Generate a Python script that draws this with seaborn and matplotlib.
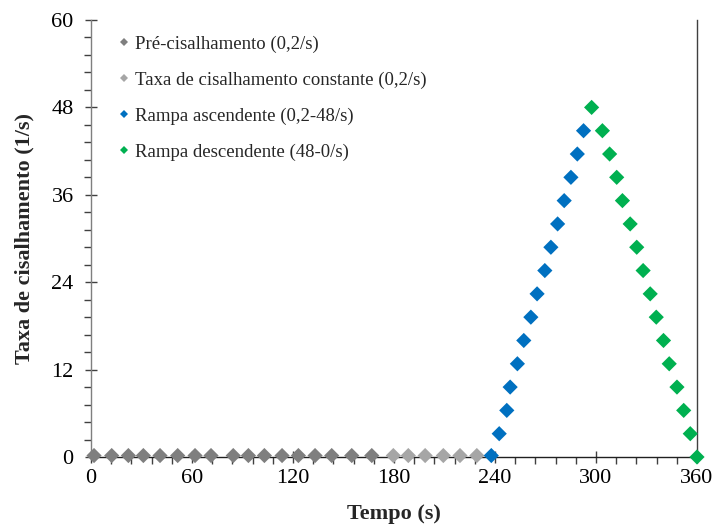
import numpy as np
import pandas as pd
import matplotlib
matplotlib.use("Agg")
import matplotlib.pyplot as plt
from matplotlib.ticker import MultipleLocator
import seaborn as sns

# ---- data ----
pre_t = [1.8, 12.3, 22.2, 31.1, 41.0, 51.5, 61.8, 71.3, 84.5, 93.5, 103.0,
         113.5, 123.2, 133.1, 143.0, 154.9, 166.8]
pre_y = [0.2] * len(pre_t)

const_t = [179.6, 188.5, 198.5, 209.3, 219.2, 229.2]
const_y = [0.2] * len(const_t)

up_t = [237.8, 242.5, 247.0, 249.0, 253.3, 257.1, 261.3, 265.0, 269.6, 273.2,
        277.2, 281.1, 285.1, 288.9, 292.6]
up_y = [0.2, 3.2, 6.4, 9.6, 12.8, 16.0, 19.2, 22.4, 25.6, 28.8, 32.0, 35.2,
        38.4, 41.6, 44.8]

down_t = [297.4, 303.8, 308.1, 312.3, 315.7, 320.3, 324.2, 328.0, 332.2, 335.8,
          340.1, 343.5, 348.1, 352.1, 356.0, 360.0]
down_y = [48.0, 44.8, 41.6, 38.4, 35.2, 32.0, 28.8, 25.6, 22.4, 19.2, 16.0,
          12.8, 9.6, 6.4, 3.2, 0.0]

labels = ["Pré-cisalhamento (0,2/s)",
          "Taxa de cisalhamento constante (0,2/s)",
          "Rampa ascendente (0,2-48/s)",
          "Rampa descendente (48-0/s)"]
colors = ["#7f7f7f", "#a6a6a6", "#0070c0", "#00b050"]

x_ticks = [0, 60, 120, 180, 240, 300, 360]
y_ticks = [0, 12, 24, 36, 48, 60]

df = pd.concat([
    pd.DataFrame({"t": pre_t, "y": pre_y, "serie": labels[0]}),
    pd.DataFrame({"t": const_t, "y": const_y, "serie": labels[1]}),
    pd.DataFrame({"t": up_t, "y": up_y, "serie": labels[2]}),
    pd.DataFrame({"t": down_t, "y": down_y, "serie": labels[3]}),
], ignore_index=True)

sns.set_style("white")
plt.rcParams["font.family"] = ["Liberation Serif", "DejaVu Serif"]

fig = plt.figure(figsize=(7.13, 5.26), dpi=100)
ax = fig.add_axes([91 / 713, 1 - 457 / 526, 606 / 713, 437 / 526])

sns.scatterplot(data=df, x="t", y="y", hue="serie", hue_order=labels,
                palette=colors, marker="D", s=60, linewidth=0, ax=ax,
                clip_on=False, zorder=3)

ax.set_xlim(0, 360)
ax.set_ylim(0, 60)
ax.set_xticks(x_ticks)
ax.set_yticks(y_ticks)
ax.xaxis.set_minor_locator(MultipleLocator(12))
ax.yaxis.set_minor_locator(MultipleLocator(2.4))
ax.tick_params(axis="x", which="both", bottom=True, top=False)
ax.tick_params(axis="y", which="both", left=True, right=False)
ax.tick_params(axis="both", which="major", direction="inout", length=9,
               width=1, labelsize=16, colors="#404040", labelcolor="black")
ax.tick_params(axis="both", which="minor", direction="out", length=5,
               width=1, colors="#404040")
ax.tick_params(axis="x", which="major", pad=4)
ax.tick_params(axis="y", which="major", pad=8)

ax.spines["top"].set_visible(False)
ax.spines["left"].set_color("#7f7f7f")
ax.spines["bottom"].set_color("#202020")
ax.spines["right"].set_color("#404040")
for s in ["left", "bottom", "right"]:
    ax.spines[s].set_linewidth(1.0)

ax.set_xlabel("Tempo (s)", fontsize=16, fontweight="bold", labelpad=12)
ax.set_ylabel("Taxa de cisalhamento (1/s)", fontsize=16, fontweight="bold",
              labelpad=12)

leg = ax.legend(loc="upper left", bbox_to_anchor=(0.032, 0.982), frameon=False,
                fontsize=13.5, markerscale=0.55, handlelength=0.6,
                handletextpad=0.3, labelspacing=1.0, borderaxespad=0)
for h in leg.legend_handles:
    h.set_linewidth(0)

fig.savefig("out.png", dpi=100)
